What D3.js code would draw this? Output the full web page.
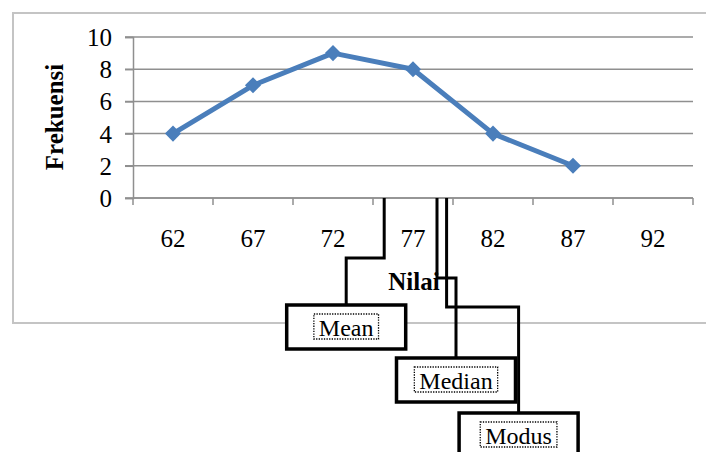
<!DOCTYPE html>
<html>
<head>
<meta charset="utf-8">
<script src="https://cdn.jsdelivr.net/npm/d3@7"></script>
<style>
  body { margin: 0; background: #fff; }
  svg { display: block; }
  text { font-family: "Liberation Serif", "Times New Roman", serif; }
</style>
</head>
<body>
<script>
// data
const categories = ['62', '67', '72', '77', '82', '87', '92'];
const frequencies = [4, 7, 9, 8, 4, 2, null];
const yTicks = [0, 2, 4, 6, 8, 10];
const statNames = ['Mean', 'Median', 'Modus'];
const statValues = [75.2, 78.5, 79.1];

const W = 706, H = 452;
const plot = {left: 133, right: 693, top: 37, bottom: 198};

const svg = d3.select('body').append('svg')
    .attr('width', W)
    .attr('height', H);

svg.append('rect').attr('width', W).attr('height', H).attr('fill', '#fff');

// chart frame
svg.append('rect')
    .attr('x', 13).attr('y', 13)
    .attr('width', 720).attr('height', 310)
    .attr('fill', 'none')
    .attr('stroke', '#c4c4c4')
    .attr('stroke-width', 2);

let x = d3.scaleBand()
    .domain(categories)
    .range([plot.left, plot.right])
    .padding(0);

// numeric scale lined up with the band centres (62 -> first centre)
let xv = d3.scaleLinear()
    .domain([+categories[0], +categories[categories.length - 1]])
    .range([x(categories[0]) + x.bandwidth() / 2,
            x(categories[categories.length - 1]) + x.bandwidth() / 2]);

let y = d3.scaleLinear()
    .domain([0, 10])
    .range([plot.bottom, plot.top]);

// gridlines
svg.append('g')
    .selectAll('line')
    .data(yTicks)
    .enter().append('line')
    .attr('x1', plot.left - 8)
    .attr('x2', plot.right)
    .attr('y1', d => y(d))
    .attr('y2', d => y(d))
    .attr('stroke', '#8f8f8f')
    .attr('stroke-width', 1.5);

// y axis
let yAxis = svg.append('g')
    .attr('transform', 'translate(' + plot.left + ',0)')
    .call(d3.axisLeft(y).tickValues(yTicks).tickSize(8).tickPadding(13));
yAxis.select('.domain').attr('stroke', '#8f8f8f').attr('stroke-width', 1.5);
yAxis.selectAll('.tick line').attr('stroke', '#8f8f8f').attr('stroke-width', 1.5);
yAxis.selectAll('.tick text')
    .attr('font-size', 25)
    .attr('font-family', '"Liberation Serif", serif')
    .attr('fill', '#000')
    .attr('dy', '0.34em');

// x axis: ticks on the band boundaries
let xg = svg.append('g');
xg.append('line')
    .attr('x1', plot.left).attr('x2', plot.right)
    .attr('y1', plot.bottom).attr('y2', plot.bottom)
    .attr('stroke', '#8f8f8f').attr('stroke-width', 1.5);
xg.selectAll('.xt')
    .data(categories.concat(['end']))
    .enter().append('line')
    .attr('class', 'xt')
    .attr('x1', (d, i) => plot.left + i * x.step())
    .attr('x2', (d, i) => plot.left + i * x.step())
    .attr('y1', plot.bottom)
    .attr('y2', plot.bottom + 7)
    .attr('stroke', '#8f8f8f').attr('stroke-width', 1.5);
xg.selectAll('text')
    .data(categories)
    .enter().append('text')
    .attr('x', d => x(d) + x.bandwidth() / 2)
    .attr('y', 247)
    .attr('text-anchor', 'middle')
    .attr('font-size', 25)
    .text(d => d);

// series line
let pts = categories.map((c, i) => ({c: c, v: frequencies[i]})).filter(d => d.v != null);
let line = d3.line()
    .x(d => x(d.c) + x.bandwidth() / 2)
    .y(d => y(d.v));

svg.append('path')
    .datum(pts)
    .attr('d', line)
    .attr('fill', 'none')
    .attr('stroke', '#4a7ebb')
    .attr('stroke-width', 5)
    .attr('stroke-linejoin', 'round');

svg.append('g')
    .selectAll('path')
    .data(pts)
    .enter().append('path')
    .attr('d', d3.symbol().type(d3.symbolDiamond2).size(165))
    .attr('transform', d => 'translate(' + (x(d.c) + x.bandwidth() / 2) + ',' + y(d.v) + ')')
    .attr('fill', '#4a7ebb');

// axis titles
svg.append('text')
    .attr('transform', 'translate(63,117) rotate(-90)')
    .attr('text-anchor', 'middle')
    .attr('font-size', 25)
    .attr('font-weight', 'bold')
    .text('Frekuensi');

svg.append('text')
    .attr('x', 414)
    .attr('y', 290)
    .attr('text-anchor', 'middle')
    .attr('font-size', 25)
    .attr('font-weight', 'bold')
    .text('Nilai');

// callouts: elbow depth, box centre offset, box top
let callLayout = [
    {elbow: 258, dx: -38, top: 305},
    {elbow: 278, dx: 19, top: 358},
    {elbow: 307, dx: 72, top: 413}
];
let boxW = 119, boxH = 44;

let calls = svg.append('g')
    .selectAll('g')
    .data(statNames.map((n, i) => ({name: n, v: statValues[i], L: callLayout[i]})))
    .enter().append('g');

calls.append('path')
    .attr('d', d => {
        let sx = xv(d.v);
        let bx = sx + d.L.dx;
        return 'M' + sx + ',' + plot.bottom + 'V' + d.L.elbow + 'H' + bx + 'V' + d.L.top;
    })
    .attr('fill', 'none')
    .attr('stroke', '#000')
    .attr('stroke-width', 3);

calls.append('rect')
    .attr('x', d => xv(d.v) + d.L.dx - boxW / 2)
    .attr('y', d => d.L.top)
    .attr('width', boxW)
    .attr('height', boxH)
    .attr('fill', '#fff')
    .attr('stroke', '#000')
    .attr('stroke-width', 3.5);

let labels = calls.append('text')
    .attr('x', d => xv(d.v) + d.L.dx)
    .attr('y', d => d.L.top + 31)
    .attr('text-anchor', 'middle')
    .attr('font-size', 24)
    .text(d => d.name);

// dotted frame round each label
labels.each(function(d) {
    let b = this.getBBox();
    d3.select(this.parentNode).append('rect')
        .attr('x', b.x - 5)
        .attr('y', d.L.top + 9)
        .attr('width', b.width + 10)
        .attr('height', 25)
        .attr('fill', 'none')
        .attr('stroke', '#000')
        .attr('stroke-width', 1.3)
        .attr('stroke-dasharray', '1.3,1.3');
});
</script>
</body>
</html>
